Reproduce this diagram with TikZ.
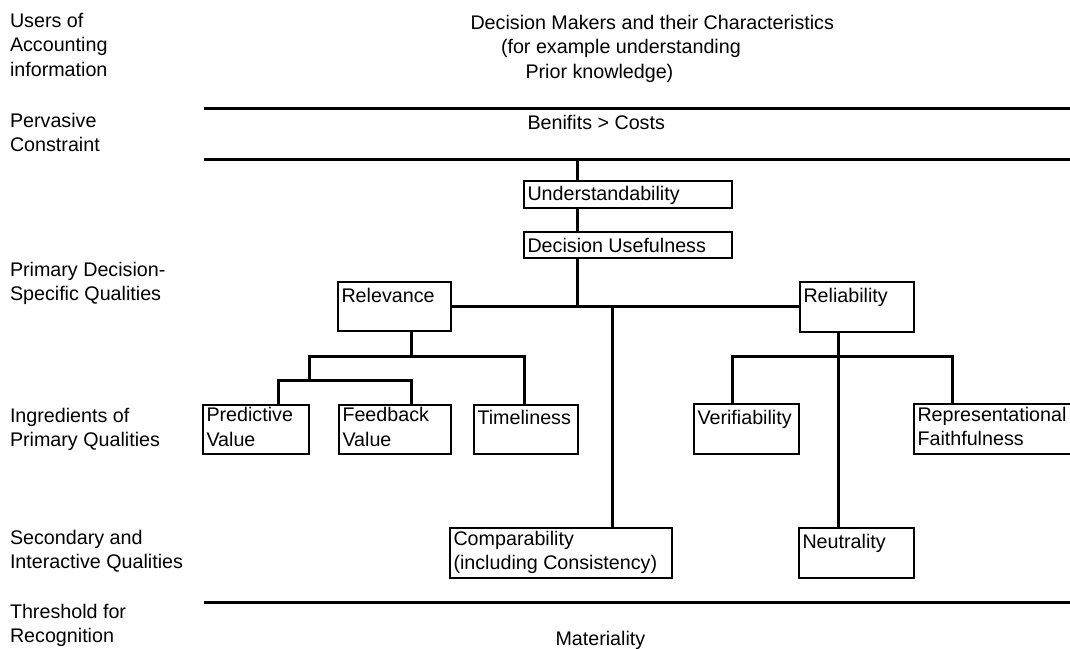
\documentclass[tikz,border=0pt]{standalone}
\usepackage{fontspec}
\setmainfont{Liberation Sans}
\usetikzlibrary{calc}
\newcommand\fsz{\fontsize{19.7pt}{24.5pt}\selectfont}
\begin{document}
\begin{tikzpicture}[x=1pt,y=-1pt,
  box/.style={draw, line width=2.5pt, inner sep=0pt, outer sep=0pt, anchor=north west},
  txt/.style={inner sep=0pt, outer sep=0pt, anchor=north west, align=left, font=\fsz, execute at begin node=\strut},
  conn/.style={line width=2.6pt, line cap=rect},
  sepline/.style={line width=3pt}]
\useasboundingbox (0,0) rectangle (1070,648);
\fill[white] (0,0) rectangle (1070,648);

% left labels
\node[txt] (l1) at (10,12.85) {Users of\\Accounting\\information};
\node[txt] (l2) at (10,112.85) {Pervasive\\Constraint};
\node[txt] (l3) at (10,261.85) {Primary Decision-\\Specific Qualities};
\node[txt] (l4) at (10,407.85) {Ingredients of\\Primary Qualities};
\node[txt] (l5) at (10,529.85) {Secondary and\\Interactive Qualities};
\node[txt] (l6) at (10,603.85) {Threshold for\\Recognition};

% top text
\node[txt] (dm) at (470.5,14.85) {Decision Makers and their Characteristics\\\hspace*{30.5pt}(for example understanding\\\hspace*{55pt}Prior knowledge)};

% separators
\coordinate (s1a) at (204,108.5); \coordinate (s1b) at (1070,108.5);
\coordinate (s2a) at (204,159.5); \coordinate (s2b) at (1070,159.5);
\coordinate (s3a) at (204,602.5); \coordinate (s3b) at (1070,602.5);
\draw[sepline] (s1a) -- (s1b);
\draw[sepline] (s2a) -- (s2b);
\draw[sepline] (s3a) -- (s3b);

\node[txt] (bc) at (527.5,111.85) {Benifits > Costs};
\node[txt] (mat) at (555.5,627.85) {Materiality};

% boxes
\node[box, minimum width=208pt, minimum height=27pt] (und) at (524,181) {};
\node[box, minimum width=208pt, minimum height=26pt] (du) at (524,232) {};
\node[box, minimum width=113pt, minimum height=49pt] (rel) at (338,282) {};
\node[box, minimum width=114pt, minimum height=50pt] (reli) at (800,282) {};
\node[box, minimum width=106pt, minimum height=49pt] (pred) at (203,405) {};
\node[box, minimum width=112pt, minimum height=49pt] (feed) at (339,405) {};
\node[box, minimum width=104pt, minimum height=49pt] (time) at (474,405) {};
\node[box, minimum width=105pt, minimum height=50pt] (ver) at (694,404) {};
\node[box, minimum width=170pt, minimum height=50pt] (rep) at (914,404) {};
\node[box, minimum width=222pt, minimum height=50pt] (comp) at (450,528) {};
\node[box, minimum width=115pt, minimum height=50pt] (neut) at (799,528) {};

% box texts
\node[txt] (undt) at ($(und.north west)+(3.5,2.35)$) {Understandability};
\node[txt] (dut) at ($(du.north west)+(3.5,2.85)$) {Decision Usefulness};
\node[txt] (relt) at ($(rel.north west)+(3.5,2.85)$) {Relevance};
\node[txt] (relit) at ($(reli.north west)+(3.5,2.85)$) {Reliability};
\node[txt] (predt) at ($(pred.north west)+(3.5,2.35)$) {Predictive\\Value};
\node[txt] (feedt) at ($(feed.north west)+(3.5,2.35)$) {Feedback\\Value};
\node[txt] (timet) at ($(time.north west)+(3.5,2.35)$) {Timeliness};
\node[txt] (vert) at ($(ver.north west)+(3.5,2.85)$) {Verifiability};
\node[txt] (rept) at ($(rep.north west)+(3.5,2.85)$) {Representational\\Faithfulness};
\node[txt] (compt) at ($(comp.north west)+(3.5,2.85)$) {Comparability\\(including Consistency)};
\node[txt] (neutt) at ($(neut.north west)+(3.5,2.85)$) {Neutrality};

% connectors
\coordinate (sp) at (577.5,159.5);
\draw[conn] (sp) -- (sp |- und.north);
\draw[conn] (sp |- und.south) -- (sp |- du.north);
\draw[conn] (sp |- du.south) -- (sp |- rel.east);
\draw[conn] (rel.east) -- (rel.east -| reli.west);
\coordinate (cx) at (612.5,0);
\draw[conn] (cx |- rel.east) -- (cx |- comp.north);

\coordinate (ra) at (411.5,356.5);
\coordinate (rb) at (309.5,356.5);
\coordinate (rc) at (524.5,356.5);
\coordinate (rd) at (309.5,380.5);
\coordinate (re) at (278.5,380.5);
\coordinate (rf) at (411.5,380.5);
\draw[conn] (ra |- rel.south) -- (ra);
\draw[conn] (rc |- time.north) -- (rc) -- (rb) -- (rd);
\draw[conn] (re |- pred.north) -- (re) -- (rf) -- (rf |- feed.north);

\coordinate (la) at (838.5,0);
\coordinate (lb) at (732.5,356.5);
\coordinate (lc) at (952.5,356.5);
\draw[conn] (la |- reli.south) -- (la |- neut.north);
\draw[conn] (lb |- ver.north) -- (lb) -- (lc) -- (lc |- rep.north);
\end{tikzpicture}
\end{document}
